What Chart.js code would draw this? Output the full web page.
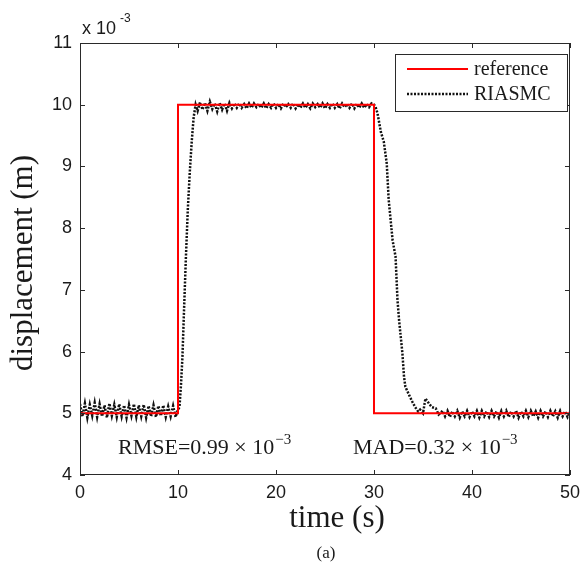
<!DOCTYPE html>
<html>
<head>
<meta charset="utf-8">
<script src="https://cdn.jsdelivr.net/npm/chart.js@4/dist/chart.umd.min.js"></script>
<style>
  html, body { margin: 0; padding: 0; background: #fff; }
  #wrap { width: 587px; height: 564px; }
</style>
</head>
<body>
<div id="wrap"><canvas id="chart" width="587" height="564"></canvas></div>
<script>
// displacement values are in units of 1e-3 m (axis shows "x 10^-3")
const refTime = [0, 10, 10, 30, 30, 50];
const refDisp = [5, 5, 10, 10, 5, 5];

// RIASMC response
const holdLowTime = [0,0.25,0.5,0.75,1,1.25,1.5,1.75,2,2.25,2.5,2.75,3,3.25,3.5,3.75,4,4.25,4.5,4.75,5,5.25,5.5,5.75,6,6.25,6.5,6.75,7,7.25,7.5,7.75,8,8.25,8.5,8.75,9,9.25,9.5,9.75,10];
const holdLowDisp = [5.15,4.95,5.16,4.93,5.14,4.96,5.17,4.94,5.15,4.95,
                     5.13,4.93,5.16,4.96,5.14,4.94,5.15,4.95,5.13,4.93,
                     5.14,4.96,5.15,4.94,5.13,4.95,5.14,4.93,5.12,4.95,
                     5.13,4.94,5.12,4.96,5.13,4.94,5.11,4.95,5.12,4.94,
                     5.06];

const riseTime = [10.15,10.3,10.45,10.6,10.8,11,11.2,11.4,11.6,11.8];
const riseDisp = [5.1,5.45,5.9,6.6,7.5,8.3,8.9,9.4,9.8,10.0];

const holdHighTime = [12,12.25,12.5,12.75,13,13.25,13.5,13.75,14,14.25,14.5,14.75,15,15.25,15.5,15.75,16,
  16.25,16.5,16.75,17,17.25,17.5,17.75,18,18.25,18.5,18.75,19,19.25,19.5,19.75,20,20.25,20.5,20.75,21,
  21.25,21.5,21.75,22,22.25,22.5,22.75,23,23.25,23.5,23.75,24,24.25,24.5,24.75,25,25.25,25.5,25.75,26,
  26.25,26.5,26.75,27,27.25,27.5,27.75,28,28.25,28.5,28.75,29,29.25,29.5,29.75,30];
const holdHighDisp = [9.9,10.04,9.92,10.03,9.9,10.05,9.93,10.02,9.89,10.03,9.92,10.02,9.9,10.03,9.94,10.02,9.95,
  10.02,9.95,10.01,9.94,10.02,9.95,10.02,9.96,10.01,9.95,
  10.02,9.94,10.01,9.95,10.02,9.95,10.01,9.94,10.02,9.96,
  10.01,9.95,10.02,9.94,10.01,9.95,10.02,9.95,10.01,9.94,
  10.02,9.96,10.01,9.95,10.02,9.94,10.01,9.95,10.02,9.95,
  10.01,9.94,10.02,9.96,10.01,9.95,10.02,9.94,10.01,9.95,
  10.02,9.95,10.01,9.96,10.02,10.0];

const fallTime = [30.15,30.36,30.7,31,31.3,31.5,31.9,32.2,32.4,32.56,32.9,33.06,33.2,33.6,33.9,34.2,34.5,34.7,35,35.25,35.6,35.9,36.3,36.6,37];
const fallDisp = [9.97,9.86,9.56,9.4,9.05,8.46,7.8,7.54,6.83,6.51,5.97,5.6,5.43,5.29,5.19,5.1,5.03,5.06,5.0,5.24,5.16,5.1,5.08,4.98,5.04];

const tailTime = [37.25,37.5,37.75,38,38.25,38.5,38.75,39,39.25,39.5,39.75,40,40.25,40.5,40.75,41,41.25,41.5,41.75,42,
  42.25,42.5,42.75,43,43.25,43.5,43.75,44,44.25,44.5,44.75,45,45.25,45.5,45.75,46,46.25,46.5,46.75,47,
  47.25,47.5,47.75,48,48.25,48.5,48.75,49,49.25,49.5,49.75,50];
const tailDisp = [4.95,5.04,4.94,5.03,4.95,5.04,4.93,5.03,4.95,5.04,
  4.94,5.03,4.95,5.04,4.93,5.04,4.95,5.03,4.94,5.04,
  4.95,5.03,4.93,5.04,4.95,5.04,4.94,5.03,4.95,5.04,
  4.93,5.03,4.95,5.04,4.94,5.04,4.95,5.03,4.93,5.04,
  4.95,5.03,4.94,5.04,4.95,5.03,4.93,5.04,4.95,5.03,
  4.94,5.02];

const riasmcTime = [...holdLowTime, ...riseTime, ...holdHighTime, ...fallTime, ...tailTime];
const riasmcDisp = [...holdLowDisp, ...riseDisp, ...holdHighDisp, ...fallDisp, ...tailDisp];

const seriesNames = ['reference', 'RIASMC'];
const rmseText = 'RMSE=0.99 \u00d7 10';
const madText = 'MAD=0.32 \u00d7 10';

const toPoints = (xs, ys) => xs.map((x, i) => ({ x, y: ys[i] }));

const SERIF = '"Liberation Serif", "DejaVu Serif", serif';
const SANS = '"Liberation Sans", Arial, sans-serif';
const AXIS = '#2a2a2a';

// frame with inward ticks, matlab style
const framePlugin = {
  id: 'frame',
  afterDatasetsDraw(chart) {
    const { ctx, chartArea: a, scales } = chart;
    ctx.save();
    ctx.strokeStyle = AXIS;
    ctx.lineWidth = 1;
    ctx.strokeRect(a.left + 0.5, a.top + 0.5, a.right - a.left - 1, a.bottom - a.top - 1);
    ctx.beginPath();
    scales.x.ticks.forEach(t => {
      const px = Math.round(scales.x.getPixelForValue(t.value)) + 0.5;
      ctx.moveTo(px, a.bottom); ctx.lineTo(px, a.bottom - 5);
      ctx.moveTo(px, a.top); ctx.lineTo(px, a.top + 5);
    });
    scales.y.ticks.forEach(t => {
      const py = Math.round(scales.y.getPixelForValue(t.value)) + 0.5;
      ctx.moveTo(a.left, py); ctx.lineTo(a.left + 5, py);
      ctx.moveTo(a.right, py); ctx.lineTo(a.right - 5, py);
    });
    ctx.stroke();
    ctx.restore();
  },
  afterDraw(chart) {
    const { ctx, chartArea: a } = chart;
    ctx.save();
    ctx.fillStyle = '#1a1a1a';

    // exponent over the y axis
    ctx.font = '18px ' + SANS;
    ctx.textAlign = 'left';
    ctx.textBaseline = 'alphabetic';
    ctx.fillText('x 10', 82, 34);
    ctx.font = '12px ' + SANS;
    ctx.fillText('-3', 120, 22);

    // axis titles
    ctx.font = '31px ' + SERIF;
    ctx.textAlign = 'center';
    ctx.textBaseline = 'middle';
    ctx.fillText('time (s)', 337, 519);
    ctx.save();
    ctx.translate(24, (a.top + a.bottom) / 2 + 4);
    ctx.rotate(-Math.PI / 2);
    ctx.fillText('displacement (m)', 0, 0);
    ctx.restore();
    ctx.font = '17px ' + SERIF;
    ctx.fillText('(a)', 326, 554);

    // error figures
    const sup = (txt, x, y) => {
      ctx.font = '22px ' + SERIF;
      ctx.textAlign = 'left';
      ctx.textBaseline = 'alphabetic';
      ctx.fillText(txt, x, y);
      const w = ctx.measureText(txt).width;
      ctx.font = '15px ' + SERIF;
      ctx.fillText('\u22123', x + w + 1, y - 10);
    };
    sup(rmseText, 118, 454);
    sup(madText, 353, 454);

    // legend box
    const lx = 395, ly = 54, lw = 172, lh = 57;
    ctx.fillStyle = '#fff';
    ctx.fillRect(lx, ly, lw, lh);
    ctx.strokeStyle = AXIS;
    ctx.lineWidth = 1;
    ctx.strokeRect(lx + 0.5, ly + 0.5, lw, lh);
    const ds = chart.data.datasets;
    [69, 94].forEach((y, i) => {
      ctx.beginPath();
      ctx.strokeStyle = ds[i].borderColor;
      ctx.lineWidth = ds[i].borderWidth;
      ctx.setLineDash(ds[i].borderDash || []);
      ctx.moveTo(407, y); ctx.lineTo(468, y);
      ctx.stroke();
      ctx.setLineDash([]);
      ctx.fillStyle = '#1a1a1a';
      ctx.font = '20px ' + SERIF;
      ctx.textAlign = 'left';
      ctx.textBaseline = 'middle';
      ctx.fillText(seriesNames[i], 474, y + 1);
    });
    ctx.restore();
  }
};

new Chart(document.getElementById('chart').getContext('2d'), {
  type: 'line',
  data: {
    datasets: [{
      label: seriesNames[0],
      data: toPoints(refTime, refDisp),
      borderColor: '#ff0000',
      borderWidth: 2,
      pointRadius: 0,
      tension: 0
    }, {
      label: seriesNames[1],
      data: toPoints(riasmcTime, riasmcDisp),
      borderColor: '#111',
      borderWidth: 2.5,
      borderDash: [2, 1.5],
      pointRadius: 0,
      tension: 0
    }]
  },
  options: {
    responsive: false,
    animation: false,
    events: [],
    layout: { padding: { top: 43, right: 13, left: 0, bottom: 0 } },
    plugins: { legend: { display: false }, tooltip: { enabled: false } },
    scales: {
      x: {
        type: 'linear',
        min: 0, max: 50,
        grid: { display: false, drawTicks: false },
        border: { display: false },
        ticks: { stepSize: 10, padding: 7, color: '#1a1a1a', font: { family: SANS, size: 18 } },
        afterFit: s => { s.height = 89; }
      },
      y: {
        min: 4, max: 11,
        grid: { display: false, drawTicks: false },
        border: { display: false },
        ticks: { stepSize: 1, padding: 8, color: '#1a1a1a', font: { family: SANS, size: 18 } },
        afterFit: s => { s.width = 80; }
      }
    }
  },
  plugins: [framePlugin]
});
</script>
</body>
</html>
